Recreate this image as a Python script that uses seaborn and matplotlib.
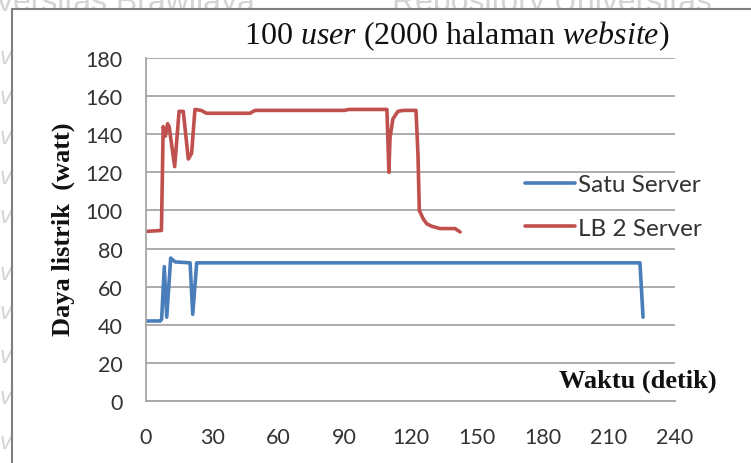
import matplotlib
matplotlib.use("Agg")
import matplotlib.pyplot as plt
from matplotlib.patches import Rectangle
import seaborn as sns
import pandas as pd

# ---- data ----
series_names = ["Satu Server", "LB 2 Server"]
series_colors = ["#4A7EBB", "#C0504D"]

blue_t = [0, 6.5, 7.1, 8.3, 9.4, 11.2, 13.2, 20, 21.2, 23, 224.1, 225.5]
blue_v = [42, 42, 43, 70.5, 44, 75, 73, 72.5, 45.5, 72.5, 72.5, 44]

red_t = [0, 7, 7.8, 8.8, 9.8, 10.5, 13.0, 15.0, 16.9, 19.2, 20.7, 22.2, 25, 27.5,
         47.2, 49.5, 90, 92, 109.3, 110.2, 110.7, 112, 114.3, 116.6, 122.5, 123.4,
         124, 125.8, 127.4, 129.6, 133.4, 140.2, 142.5]
red_v = [89, 89.5, 144, 139, 145.5, 144, 123, 152, 152, 127, 130, 153, 152.5, 151,
         151, 152.5, 152.5, 153, 153, 120, 138, 148, 152, 152.5, 152.5, 129,
         100, 95.5, 93, 91.7, 90.5, 90.5, 88.7]

x_ticks = [0, 30, 60, 90, 120, 150, 180, 210, 240]
y_ticks = [0, 20, 40, 60, 80, 100, 120, 140, 160, 180]

title_txt = r"100 $\mathit{user}$ (2000 halaman $\mathit{website}$)"
ylabel_txt = "Daya listrik  (watt)"
xlabel_txt = "Waktu (detik)"
wm_left = "versitas Brawijaya"
wm_right = "Repository Universitas"

df = pd.concat([
    pd.DataFrame({"Waktu": blue_t, "Daya": blue_v, "Seri": series_names[0]}),
    pd.DataFrame({"Waktu": red_t, "Daya": red_v, "Seri": series_names[1]}),
], ignore_index=True)

# ---- style ----
sns.set_style("white")
plt.rcParams["font.family"] = ["Lato", "DejaVu Sans"]
plt.rcParams["mathtext.fontset"] = "custom"
plt.rcParams["mathtext.rm"] = "Liberation Serif"
plt.rcParams["mathtext.it"] = "Liberation Serif:italic"

fig = plt.figure(figsize=(7.51, 4.64), dpi=100)
fig.patch.set_facecolor("white")

# watermark + page frame
wm_col = "#d4d4d4"
wm_fam = ["Liberation Sans", "DejaVu Sans"]
fig.text(-0.004, 1 - 11 / 464, wm_left, color=wm_col, fontsize=23, family=wm_fam,
         va="baseline", ha="left", zorder=-3)
fig.text(392 / 751, 1 - 11 / 464, wm_right, color=wm_col, fontsize=23, family=wm_fam,
         va="baseline", ha="left", zorder=-3)
for yc in [58, 97, 137, 177, 217, 273, 313, 357, 397, 443]:
    fig.text(0.0, 1 - yc / 464, "ve", color=wm_col, fontsize=17, family=wm_fam,
             style="italic", va="center", ha="left", zorder=-3)
fig.add_artist(Rectangle((12 / 751, -0.05), 1.2, 1.05 - 10 / 464,
                         transform=fig.transFigure, facecolor="white",
                         edgecolor="#808080", lw=1.5, zorder=-2))

ax = fig.add_axes([146 / 751, 1 - 402 / 464, 529 / 751, 343 / 464])
ax.set_facecolor("none")

palette = dict(zip(series_names, series_colors))
sns.lineplot(data=df, x="Waktu", y="Daya", hue="Seri", hue_order=series_names,
             palette=palette, sort=False, estimator=None, lw=2.6, ax=ax)

ax.set_xlim(0, 240)
ax.set_ylim(0, 180)
ax.set_xticks(x_ticks)
ax.set_yticks(y_ticks)
ax.set_xlabel("")
ax.set_ylabel("")
ax.grid(axis="y", color="#a6a6a6", lw=1.3)
ax.grid(axis="x", visible=False)
ax.set_axisbelow(True)
for s in ["top", "right"]:
    ax.spines[s].set_visible(False)
for s in ["left", "bottom"]:
    ax.spines[s].set_color("#a6a6a6")
    ax.spines[s].set_linewidth(1.3)
ax.tick_params(axis="y", direction="out", length=6, width=1.3, color="#a6a6a6",
               pad=11, labelsize=15.5, labelcolor="#333333")
ax.tick_params(axis="x", direction="out", length=7, width=1.3, color="#a6a6a6",
               pad=12, labelsize=15.5, labelcolor="#333333")

handles, labels = ax.get_legend_handles_labels()
ax.legend(handles, labels, loc="center left", bbox_to_anchor=(0.7165, 0.567),
          frameon=False, fontsize=17.5, handlelength=2.05, handletextpad=0.12,
          labelspacing=0.92, borderpad=0, borderaxespad=0, labelcolor="#333333")

serif = ["Liberation Serif", "DejaVu Serif"]
fig.text(457 / 751, 1 - 36 / 464, title_txt, family=serif, fontsize=23,
         ha="center", va="center", color="#111111")
fig.text(63 / 751, 1 - 229 / 464, ylabel_txt, family=serif, fontsize=19,
         fontweight="bold", rotation=90, ha="center", va="center", color="#111111")
fig.text(637.5 / 751, 1 - 381 / 464, xlabel_txt, family=serif, fontsize=19,
         fontweight="bold", ha="center", va="center", color="#111111")

fig.savefig("out.png", dpi=100, facecolor="white")
